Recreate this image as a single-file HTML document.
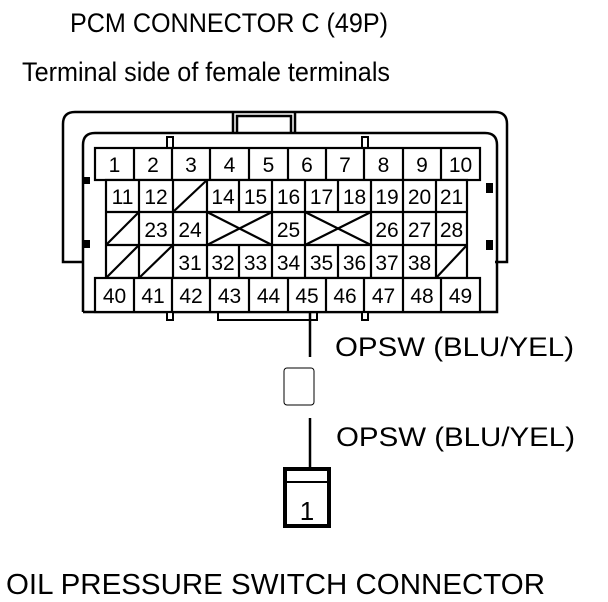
<!DOCTYPE html>
<html><head><meta charset="utf-8"><style>
html,body{margin:0;padding:0;background:#fff;}
svg{display:block;}
text{font-family:"Liberation Sans",Arial,sans-serif;fill:#000;}
</style></head><body>
<svg width="608" height="602" viewBox="0 0 608 602" xmlns="http://www.w3.org/2000/svg">
<text x="70" y="32" font-size="27" textLength="318" lengthAdjust="spacingAndGlyphs">PCM CONNECTOR C (49P)</text>
<text x="22" y="81" font-size="27" textLength="368" lengthAdjust="spacingAndGlyphs">Terminal side of female terminals</text>

<g fill="none" stroke="#000" stroke-width="2.5">
<path d="M83,262 H63 V124 Q63,112 75,112 H495 Q507,112 507,124 V262 H495"/>
<path d="M233,132 V112 M295,132 V112 M237,133 V116 H291 V133"/>
<path d="M83,312 V145 Q83,133 95,133 H485 Q497,133 497,145 V312 H83"/>
</g>
<g fill="#fff" stroke="#000" stroke-width="2">
<rect x="167" y="137" width="6" height="11"/>
<rect x="362" y="137" width="6" height="11"/>
<rect x="167" y="312" width="6" height="8"/>
<rect x="362" y="312" width="6" height="8"/>
</g>
<path d="M218,312 V320 H317 V312" fill="none" stroke="#000" stroke-width="2"/>
<g fill="#000">
<rect x="83" y="177" width="7" height="7"/>
<rect x="83" y="240" width="7" height="8"/>
<rect x="486" y="183" width="7" height="10"/>
<rect x="486" y="240" width="7" height="10"/>
</g>

<g fill="#fff" stroke="#000" stroke-width="2.2">
<rect x="95" y="148" width="385" height="32"/>
<rect x="106" y="180" width="361" height="98"/>
<rect x="95" y="278" width="385" height="34"/>
</g>
<g stroke="#000" stroke-width="2.2" fill="none">
<path d="M134,148V180M172,148V180M210,148V180M249,148V180M288,148V180M326,148V180M364,148V180M403,148V180M441,148V180"/>
<path d="M134,278V312M172,278V312M210,278V312M249,278V312M288,278V312M326,278V312M364,278V312M403,278V312M441,278V312"/>
<path d="M106,212H467M106,245H467"/>
<path d="M139,180V212M173,180V212M207,180V212M239,180V212M272,180V212M305,180V212M338,180V212M371,180V212M403,180V212M436,180V212"/>
<path d="M139,212V245M173,212V245M207,212V245M272,212V245M305,212V245M371,212V245M403,212V245M436,212V245"/>
<path d="M139,245V278M173,245V278M207,245V278M239,245V278M272,245V278M305,245V278M338,245V278M371,245V278M403,245V278M436,245V278"/>
<path d="M173,212L207,180M106,245L139,212M106,278L139,245M139,278L173,245M436,278L467,245"/>
<path d="M207,212L272,245M207,245L272,212M305,212L371,245M305,245L371,212"/>
</g>
<g font-size="21" text-anchor="middle">
<text x="114.5" y="172">1</text><text x="153" y="172">2</text><text x="191" y="172">3</text><text x="229.5" y="172">4</text><text x="268.5" y="172">5</text><text x="307" y="172">6</text><text x="345" y="172">7</text><text x="383.5" y="172">8</text><text x="422" y="172">9</text><text x="460.5" y="172">10</text>
<text x="122.5" y="204">11</text><text x="156" y="204">12</text><text x="223" y="204">14</text><text x="255.5" y="204">15</text><text x="288.5" y="204">16</text><text x="321.5" y="204">17</text><text x="354.5" y="204">18</text><text x="387" y="204">19</text><text x="419.5" y="204">20</text><text x="451.5" y="204">21</text>
<text x="156" y="237">23</text><text x="190" y="237">24</text><text x="288.5" y="237">25</text><text x="387" y="237">26</text><text x="419.5" y="237">27</text><text x="451.5" y="237">28</text>
<text x="190" y="270">31</text><text x="223" y="270">32</text><text x="255.5" y="270">33</text><text x="288.5" y="270">34</text><text x="321.5" y="270">35</text><text x="354.5" y="270">36</text><text x="387" y="270">37</text><text x="419.5" y="270">38</text>
<text x="114.5" y="303">40</text><text x="153" y="303">41</text><text x="191" y="303">42</text><text x="229.5" y="303">43</text><text x="268.5" y="303">44</text><text x="307" y="303">45</text><text x="345" y="303">46</text><text x="383.5" y="303">47</text><text x="422" y="303">48</text><text x="460.5" y="303">49</text>
</g>

<path d="M310,312V357M310,418V467" stroke="#000" stroke-width="2.5"/>
<rect x="284" y="368" width="30" height="37" rx="3" fill="#fff" stroke="#000" stroke-width="1"/>
<rect x="285" y="469" width="44" height="57" fill="#fff" stroke="#000" stroke-width="4"/>
<path d="M285,482H329" stroke="#000" stroke-width="2"/>
<text x="307" y="520" font-size="26" text-anchor="middle">1</text>

<text x="335" y="356" font-size="27" textLength="239" lengthAdjust="spacingAndGlyphs">OPSW (BLU/YEL)</text>
<text x="336" y="446" font-size="27" textLength="239" lengthAdjust="spacingAndGlyphs">OPSW (BLU/YEL)</text>
<text x="6" y="594" font-size="29" textLength="539" lengthAdjust="spacingAndGlyphs">OIL PRESSURE SWITCH CONNECTOR</text>
</svg>
</body></html>
